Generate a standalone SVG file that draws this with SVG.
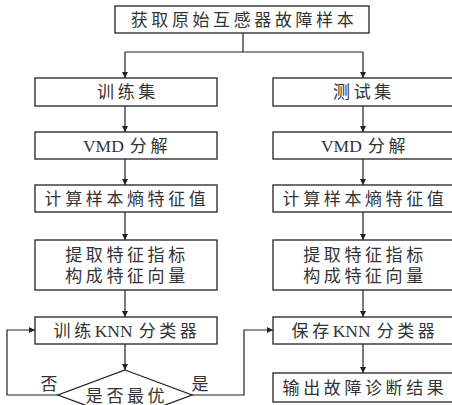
<svg xmlns="http://www.w3.org/2000/svg" width="452" height="405" viewBox="0 0 452 405">
<defs>
<style>
.box{fill:#fff;stroke:#222;stroke-width:1.3}
.ln{fill:none;stroke:#222;stroke-width:1.2}
.t{font-family:"Liberation Serif","Noto Sans CJK SC",serif;font-size:17px;fill:#333;text-anchor:middle}
.c{letter-spacing:3.6px}
.l{font-size:17.5px}
</style>
<marker id="ah" viewBox="0 0 10 10" refX="10" refY="5" markerWidth="6" markerHeight="6" markerUnits="userSpaceOnUse" orient="auto">
<path d="M0,0 L10,5 L0,10 z" fill="#222"/>
</marker>
</defs>
<rect width="452" height="405" fill="#fff"/>
<g id="connectors">
<path class="ln" d="M243,33 V52 M125,52 H363"/>
<path class="ln" d="M125,52 V78" marker-end="url(#ah)"/>
<path class="ln" d="M363,52 V78" marker-end="url(#ah)"/>
<path class="ln" d="M125,106 V132" marker-end="url(#ah)"/>
<path class="ln" d="M363,106 V132" marker-end="url(#ah)"/>
<path class="ln" d="M125,159 V185" marker-end="url(#ah)"/>
<path class="ln" d="M363,159 V185" marker-end="url(#ah)"/>
<path class="ln" d="M125,212 V240" marker-end="url(#ah)"/>
<path class="ln" d="M363,212 V240" marker-end="url(#ah)"/>
<path class="ln" d="M125,290 V317" marker-end="url(#ah)"/>
<path class="ln" d="M363,290 V317" marker-end="url(#ah)"/>
<path class="ln" d="M125,344 V370" marker-end="url(#ah)"/>
<path class="ln" d="M363,344 V373" marker-end="url(#ah)"/>
<path class="ln" d="M60,395 H7 V330 H35" marker-end="url(#ah)"/>
<path class="ln" d="M192,395 H244 V330 H273" marker-end="url(#ah)"/>
<text class="t" x="49" y="390">否</text>
<text class="t" x="200" y="390">是</text>
</g>
<g id="n-start">
<rect class="box" x="115" y="6" width="254" height="27"/>
<text class="t" x="244" y="26"><tspan class="c">获取原始互感器故障样本</tspan></text>
</g>
<g id="n-train">
<rect class="box" x="35" y="78" width="182" height="28"/>
<text class="t" x="128" y="98"><tspan class="c">训练集</tspan></text>
</g>
<g id="n-test">
<rect class="box" x="273" y="78" width="182" height="28"/>
<text class="t" x="364" y="98"><tspan class="c">测试集</tspan></text>
</g>
<g id="n-vmd-l">
<rect class="box" x="35" y="132" width="182" height="27"/>
<text class="t" x="127" y="152"><tspan class="l">VMD</tspan><tspan class="c" dx="6">分解</tspan></text>
</g>
<g id="n-vmd-r">
<rect class="box" x="273" y="132" width="182" height="27"/>
<text class="t" x="365" y="152"><tspan class="l">VMD</tspan><tspan class="c" dx="6">分解</tspan></text>
</g>
<g id="n-calc-l">
<rect class="box" x="35" y="185" width="182" height="27"/>
<text class="t" x="127" y="205"><tspan class="c">计算样本熵特征值</tspan></text>
</g>
<g id="n-calc-r">
<rect class="box" x="273" y="185" width="182" height="27"/>
<text class="t" x="365" y="205"><tspan class="c">计算样本熵特征值</tspan></text>
</g>
<g id="n-feat-l">
<rect class="box" x="35" y="240" width="182" height="50"/>
<text class="t" x="127" y="261"><tspan class="c">提取特征指标</tspan></text>
<text class="t" x="127" y="282"><tspan class="c">构成特征向量</tspan></text>
</g>
<g id="n-feat-r">
<rect class="box" x="273" y="240" width="182" height="50"/>
<text class="t" x="365" y="261"><tspan class="c">提取特征指标</tspan></text>
<text class="t" x="365" y="282"><tspan class="c">构成特征向量</tspan></text>
</g>
<g id="n-knn-train">
<rect class="box" x="35" y="317" width="182" height="27"/>
<text class="t" x="127" y="337"><tspan class="c">训练</tspan><tspan class="l">KNN</tspan><tspan class="c" dx="6">分类器</tspan></text>
</g>
<g id="n-knn-save">
<rect class="box" x="273" y="317" width="182" height="27"/>
<text class="t" x="365" y="337"><tspan class="c">保存</tspan><tspan class="l">KNN</tspan><tspan class="c" dx="6">分类器</tspan></text>
</g>
<g id="n-output">
<rect class="box" x="273" y="373" width="182" height="29"/>
<text class="t" x="365" y="394"><tspan class="c">输出故障诊断结果</tspan></text>
</g>
<g id="n-decision">
<polygon class="box" points="125,370 192,395 125,420 58,395"/>
<text class="t" x="127" y="402"><tspan class="c">是否最优</tspan></text>
</g>
</svg>
